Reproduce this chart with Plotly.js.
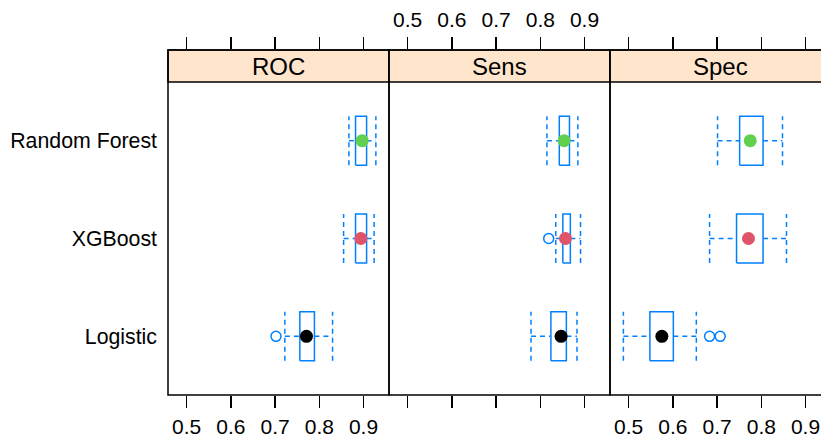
<!DOCTYPE html>
<html>
<head>
<meta charset="utf-8">
<script src="https://cdn.plot.ly/plotly-3.0.1.min.js"></script>
<style>
html,body{margin:0;padding:0;overflow:hidden;background:#fff;}
#chart{width:850px;height:442px;}
</style>
</head>
<body>
<div id="chart"></div>
<script>
// ---- data ----
var models = ["Logistic", "XGBoost", "Random Forest"];
var metrics = ["ROC", "Sens", "Spec"];
var tickVals = [0.5, 0.6, 0.7, 0.8, 0.9];
var tickText = ["0.5", "0.6", "0.7", "0.8", "0.9"];

// ROC
var rocLow = [0.722, 0.855, 0.867];
var rocQ1 = [0.756, 0.882, 0.882];
var rocMed = [0.771, 0.894, 0.897];
var rocQ3 = [0.789, 0.907, 0.907];
var rocHigh = [0.830, 0.924, 0.928];
var rocOut = [[0.702], [], []];
// Sens
var sensLow = [0.779, 0.835, 0.815];
var sensQ1 = [0.824, 0.851, 0.843];
var sensMed = [0.847, 0.857, 0.854];
var sensQ3 = [0.859, 0.868, 0.866];
var sensHigh = [0.883, 0.891, 0.885];
var sensOut = [[], [0.819], []];
// Spec
var specLow = [0.488, 0.683, 0.701];
var specQ1 = [0.548, 0.744, 0.751];
var specMed = [0.575, 0.771, 0.775];
var specQ3 = [0.601, 0.804, 0.804];
var specHigh = [0.653, 0.857, 0.848];
var specOut = [[0.683, 0.707], [], []];

var dotColors = ["#000000", "#DF536B", "#61D04F"];

// ---- layout constants ----
var W = 850, H = 442;
var FONT = "Liberation Sans, Arial, Helvetica, sans-serif";
var BLUE = "#0080ff";
var panelLeft = [168, 389, 610];
var panelW = 221;
var stripTop = 50, stripBot = 82, panelBot = 395;
var xRange = [0.4577, 0.9577];
var yLo = 0.4, yHiData = 3.6;
var ppu = (panelBot - stripBot) / (yHiData - yLo);
var yHi = yHiData + (stripBot - stripTop) / ppu;
var halfBox = 0.25;

function px(x) { return x / W; }
function py(y) { return 1 - y / H; }

var panels = [
  {low: rocLow, q1: rocQ1, med: rocMed, q3: rocQ3, high: rocHigh, out: rocOut},
  {low: sensLow, q1: sensQ1, med: sensMed, q3: sensQ3, high: sensHigh, out: sensOut},
  {low: specLow, q1: specQ1, med: specMed, q3: specQ3, high: specHigh, out: specOut}
];

var traces = [];
panels.forEach(function (p, pi) {
  var xa = pi === 0 ? "x" : "x" + (pi + 1);
  for (var m = 0; m < models.length; m++) {
    var yc = m + 1;
    // whiskers (dashed)
    traces.push({
      type: "scatter", mode: "lines", xaxis: xa, yaxis: "y", hoverinfo: "skip", showlegend: false,
      x: [p.low[m], p.q1[m], null, p.q3[m], p.high[m], null, p.low[m], p.low[m], null, p.high[m], p.high[m]],
      y: [yc, yc, null, yc, yc, null, yc - halfBox, yc + halfBox, null, yc - halfBox, yc + halfBox],
      line: {color: BLUE, width: 1.5, dash: "5px,4px"}
    });
    // box
    traces.push({
      type: "scatter", mode: "lines", xaxis: xa, yaxis: "y", hoverinfo: "skip", showlegend: false,
      x: [p.q1[m], p.q3[m], p.q3[m], p.q1[m], p.q1[m]],
      y: [yc - halfBox, yc - halfBox, yc + halfBox, yc + halfBox, yc - halfBox],
      line: {color: BLUE, width: 1.5}
    });
    // outliers
    if (p.out[m].length) {
      traces.push({
        type: "scatter", mode: "markers", xaxis: xa, yaxis: "y", hoverinfo: "skip", showlegend: false,
        x: p.out[m], y: p.out[m].map(function () { return yc; }),
        marker: {symbol: "circle-open", size: 10, color: BLUE, line: {width: 1.5, color: BLUE}}
      });
    }
    // median dot
    traces.push({
      type: "scatter", mode: "markers", xaxis: xa, yaxis: "y", hoverinfo: "skip", showlegend: false,
      x: [p.med[m]], y: [yc],
      marker: {symbol: "circle", size: 13, color: dotColors[m], line: {width: 0}}
    });
  }
  // invisible trace on top axis so it is drawn
  traces.push({
    type: "scatter", mode: "markers", xaxis: "x" + (pi + 4), yaxis: "y", hoverinfo: "skip", showlegend: false,
    x: [p.med[0]], y: [1], marker: {opacity: 0, size: 1}
  });
});

function xAxis(pi, side, labels) {
  var l = panelLeft[pi];
  var a = {
    domain: [px(l), px(l + panelW)],
    range: xRange, anchor: "y", side: side,
    showgrid: false, zeroline: false, showline: false,
    ticks: "outside", ticklen: 12, tickwidth: 1.5, tickcolor: "#000",
    tickvals: tickVals, ticktext: tickText,
    showticklabels: labels,
    ticklabelstandoff: side === "top" ? 2 : 1,
    tickfont: {family: FONT, size: 21, color: "#000"},
    fixedrange: true
  };
  return a;
}

var layout = {
  width: W, height: H, autosize: false,
  margin: {l: 0, r: 0, t: 0, b: 0, pad: 0},
  paper_bgcolor: "#fff", plot_bgcolor: "rgba(0,0,0,0)",
  showlegend: false,
  font: {family: FONT, color: "#000"},
  yaxis: {
    domain: [py(panelBot), py(stripTop)],
    range: [yLo, yHi], anchor: "x",
    showgrid: false, zeroline: false, showline: false,
    tickvals: [1, 2, 3], ticktext: models, ticks: "", ticklabelstandoff: 10,
    tickfont: {family: FONT, size: 21.3, color: "#000"},
    fixedrange: true
  },
  shapes: [],
  annotations: []
};
layout.xaxis = xAxis(0, "bottom", true);
layout.xaxis2 = xAxis(1, "bottom", false);
layout.xaxis3 = xAxis(2, "bottom", true);
layout.xaxis4 = Object.assign(xAxis(0, "top", false), {overlaying: "x"});
layout.xaxis5 = Object.assign(xAxis(1, "top", true), {overlaying: "x2"});
layout.xaxis6 = Object.assign(xAxis(2, "top", false), {overlaying: "x3"});

metrics.forEach(function (name, pi) {
  var l = panelLeft[pi];
  layout.shapes.push({
    type: "rect", xref: "paper", yref: "paper", layer: "above",
    x0: px(l), x1: px(l + panelW), y0: py(stripBot), y1: py(stripTop),
    fillcolor: "#FFE5CC", line: {color: "#000", width: 1.5}
  });
  layout.shapes.push({
    type: "rect", xref: "paper", yref: "paper", layer: "above",
    x0: px(l), x1: px(l + panelW), y0: py(panelBot), y1: py(stripTop),
    fillcolor: "rgba(0,0,0,0)", line: {color: "#000", width: 1.5}
  });
  layout.annotations.push({
    xref: "paper", yref: "paper", x: px(l + panelW / 2), y: py((stripTop + stripBot) / 2),
    xanchor: "center", yanchor: "middle", showarrow: false,
    text: name, font: {family: FONT, size: 24, color: "#000"}
  });
});

Plotly.newPlot("chart", traces, layout, {displayModeBar: false, staticPlot: true});
</script>
</body>
</html>
